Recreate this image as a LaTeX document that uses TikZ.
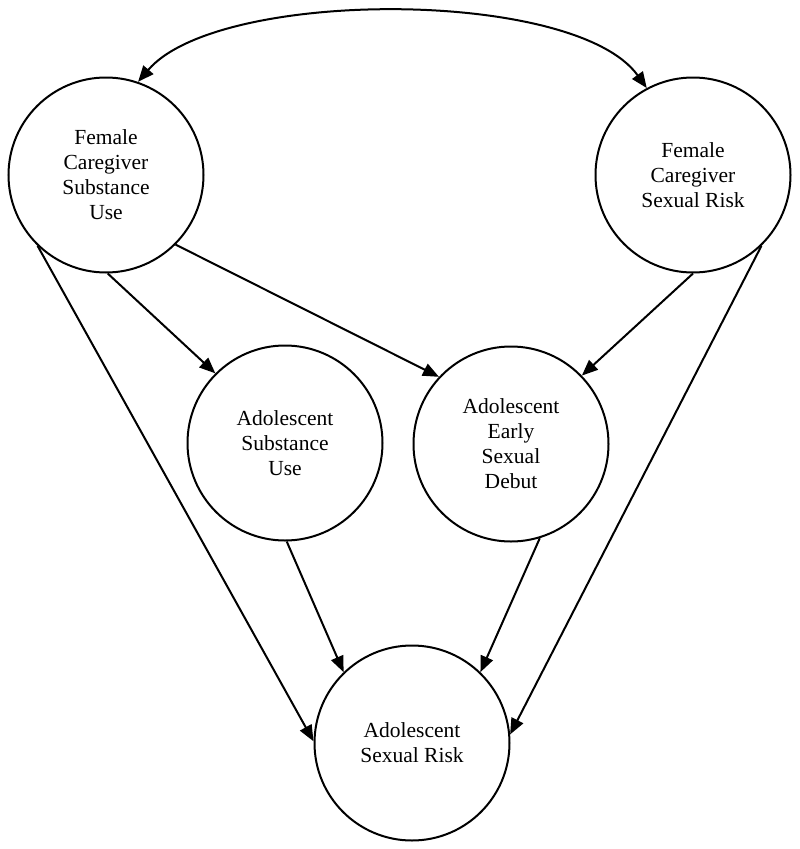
\documentclass[tikz,border=0pt]{standalone}
\usepackage{fontspec}
\setmainfont{Liberation Serif}
\usetikzlibrary{arrows.meta}
\begin{document}
\begin{tikzpicture}[x=1pt,y=-1pt,
  var/.style={circle,draw,line width=2pt,minimum size=195pt,inner sep=0pt,align=center,
    font=\fontsize{21.5}{25}\selectfont},
  conn/.style={line width=2pt,-{Triangle[length=16pt,width=13pt]}}]
\useasboundingbox (0,0) rectangle (800,849);
\node[var] (fcsu) at (106,175) {Female\\Caregiver\\Substance\\Use};
\node[var] (fcsr) at (693,175) {Female\\Caregiver\\Sexual Risk};
\node[var] (asu) at (285,443) {Adolescent\\Substance\\Use};
\node[var] (aesd) at (511,444) {Adolescent\\Early\\Sexual\\Debut};
\node[var] (asr) at (412,743) {Adolescent\\Sexual Risk};
\draw[line width=2pt,{Triangle[length=16pt,width=13pt]}-{Triangle[length=16pt,width=13pt]}]
  (fcsu.71) .. controls (218,-12) and (575,-12) .. (fcsr.118);
\draw[conn] (fcsu.-134) -- (asr.179);
\draw[conn] (fcsu.-89) -- (asu.135);
\draw[conn] (fcsu.-45) -- (aesd.137);
\draw[conn] (fcsr.-90) -- (aesd.44);
\draw[conn] (fcsr.-46) -- (asr.5);
\draw[conn] (asu.-89) -- (asr.134);
\draw[conn] (aesd.-73) -- (asr.46);
\end{tikzpicture}
\end{document}
